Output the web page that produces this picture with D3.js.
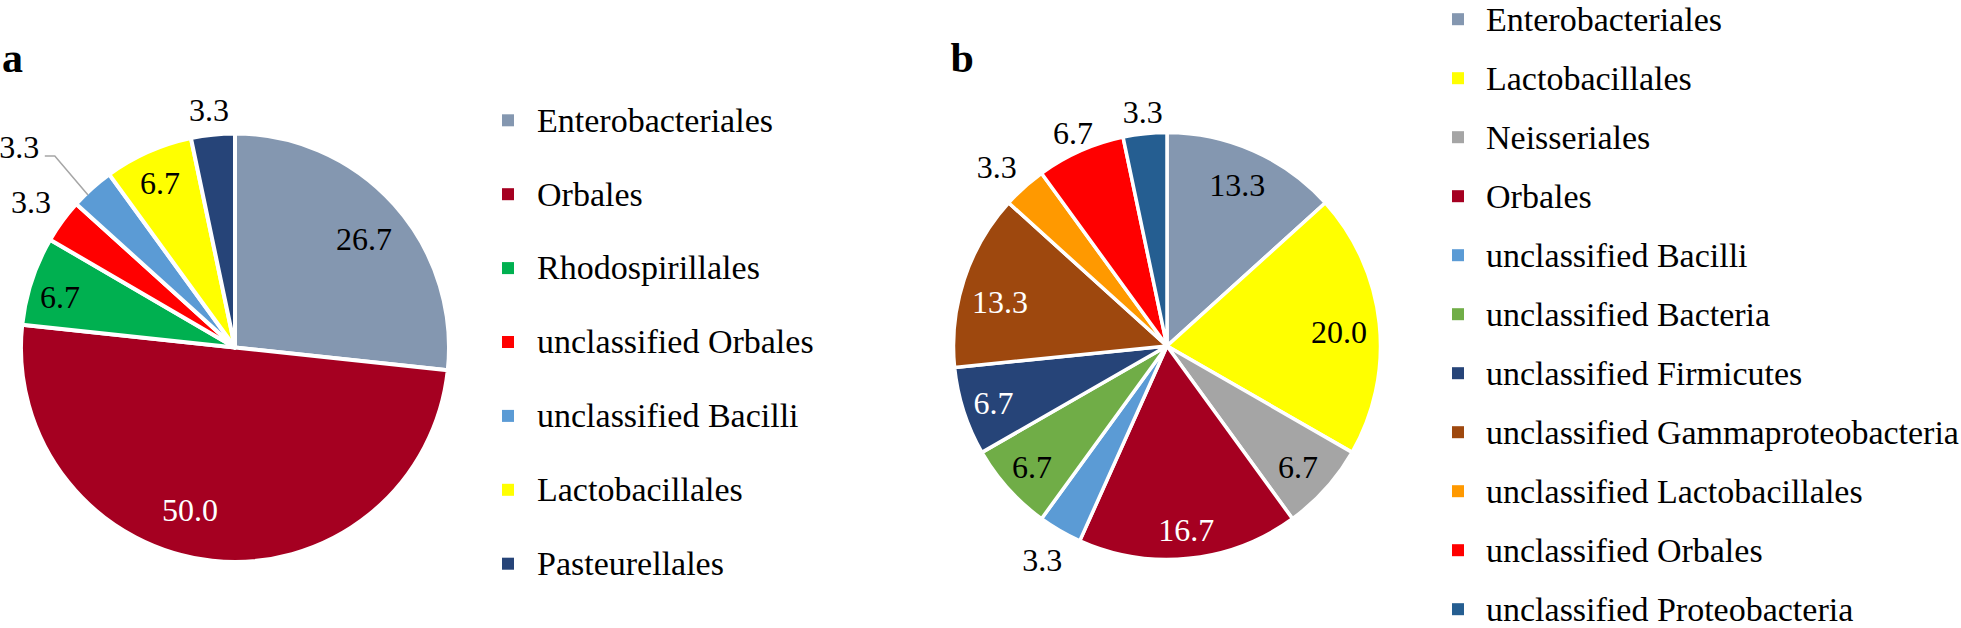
<!DOCTYPE html>
<html><head><meta charset="utf-8">
<script src="https://cdn.jsdelivr.net/npm/d3@7"></script>
<style>
body{margin:0;background:#fff;overflow:hidden}
svg text{font-family:"Liberation Serif","Times New Roman",serif}
</style>
</head><body>
<svg id="chart" width="1961" height="628"></svg>
<script>
// ---- data ----
const categoriesA = ["Enterobacteriales","Orbales","Rhodospirillales","unclassified Orbales","unclassified Bacilli","Lactobacillales","Pasteurellales"];
const valuesA = [26.7, 50.0, 6.7, 3.3, 3.3, 6.7, 3.3];
const colorsA = ["#8497B0","#A50021","#00B050","#FF0000","#5B9BD5","#FFFF00","#264478"];
const labelColorsA = ["#000","#fff","#000","#000","#000","#000","#000"];

const categoriesB = ["Enterobacteriales","Lactobacillales","Neisseriales","Orbales","unclassified Bacilli","unclassified Bacteria","unclassified Firmicutes","unclassified Gammaproteobacteria","unclassified Lactobacillales","unclassified Orbales","unclassified Proteobacteria"];
const valuesB = [13.3, 20.0, 6.7, 16.7, 3.3, 6.7, 6.7, 13.3, 3.3, 6.7, 3.3];
const colorsB = ["#8497B0","#FFFF00","#A5A5A5","#A50021","#5B9BD5","#70AD47","#264478","#9E480E","#FF9900","#FF0000","#255E91"];
const labelColorsB = ["#000","#000","#000","#fff","#000","#000","#fff","#fff","#000","#000","#000"];

// ---- layout (label radial factor, angle shift in degrees) ----
const labelLayoutA = [[0.788,1.8],[0.786,9.4],[0.851,-2],[1.17,-0.7],[1.375,-5.2],[0.845,-0.6],[1.116,-0.3]];
const labelLayoutB = [[0.823,-0.4],[0.808,1.3],[0.836,0.9],[0.866,0],[1.16,0.2],[0.85,0],[0.855,-0.4],[0.809,-3.4],[1.157,-1.6],[1.09,0.1],[1.102,0]];

const svg = d3.select("#chart");
const fmt = d3.format(".1f");

function polar(cx, cy, R, a){ return [cx + R*Math.sin(a), cy - R*Math.cos(a)]; }

function drawPanel(o){
  const g = svg.append("g");
  const pie = d3.pie().sort(null).value(d => d.v);
  const data = pie(o.cats.map((c,i)=>({c, v:o.vals[i], i})));
  const arc = d3.arc().innerRadius(0).outerRadius(o.r);
  const pg = g.append("g").attr("transform", `translate(${o.cx},${o.cy})`);
  pg.selectAll("path").data(data).join("path")
    .attr("d", arc)
    .attr("fill", d => o.colors[d.data.i])
    .attr("stroke", "#fff")
    .attr("stroke-width", o.stroke)
    .attr("stroke-linejoin", "round");

  // labels
  data.forEach(d => {
    const i = d.data.i;
    const [f, da] = o.layout[i];
    const a = (d.startAngle + d.endAngle)/2 + da*Math.PI/180;
    const [x, y] = polar(o.cx, o.cy, f*o.r, a);
    g.append("text")
      .attr("x", x).attr("y", y)
      .attr("text-anchor","middle")
      .attr("dominant-baseline","central")
      .attr("font-size", 32)
      .attr("fill", o.labelColors[i])
      .text(fmt(d.data.v));
    if (o.leader === i) {
      const mid = (d.startAngle + d.endAngle)/2 - 2*Math.PI/180;
      const [sx, sy] = polar(o.cx, o.cy, o.r*0.99, mid);
      g.append("polyline")
        .attr("points", [[x+25.5, y+8.7],[x+35.5, y+8.7],[sx, sy]].map(p=>p.join(",")).join(" "))
        .attr("fill","none").attr("stroke","#A6A6A6").attr("stroke-width",1.5);
    }
  });

  // legend
  const lg = g.append("g");
  o.cats.forEach((c,i) => {
    const yc = o.leg.y0 + i*o.leg.dy;
    lg.append("rect").attr("x", o.leg.sqX).attr("y", yc-6).attr("width", 12).attr("height", 12)
      .attr("fill", o.colors[i]);
    lg.append("text").attr("x", o.leg.textX).attr("y", yc + 11.3)
      .attr("font-size", 34).attr("fill","#000").text(c);
  });

  // panel letter
  g.append("text").attr("x", o.letter.x).attr("y", o.letter.y)
    .attr("font-size", 42).attr("font-weight","bold").attr("fill","#000").text(o.letter.t);
}

drawPanel({cx:235, cy:347.5, r:214, cats:categoriesA, vals:valuesA, colors:colorsA,
  labelColors:labelColorsA, layout:labelLayoutA, stroke:4, leader:4,
  leg:{sqX:502, textX:537, y0:120.3, dy:73.9},
  letter:{x:2, y:71.5, t:"a"}});

drawPanel({cx:1167, cy:346, r:213.5, cats:categoriesB, vals:valuesB, colors:colorsB,
  labelColors:labelColorsB, layout:labelLayoutB, stroke:3.5, leader:-1,
  leg:{sqX:1452, textX:1486, y0:19.2, dy:59.0},
  letter:{x:950.5, y:72, t:"b"}});
</script>
</body></html>
